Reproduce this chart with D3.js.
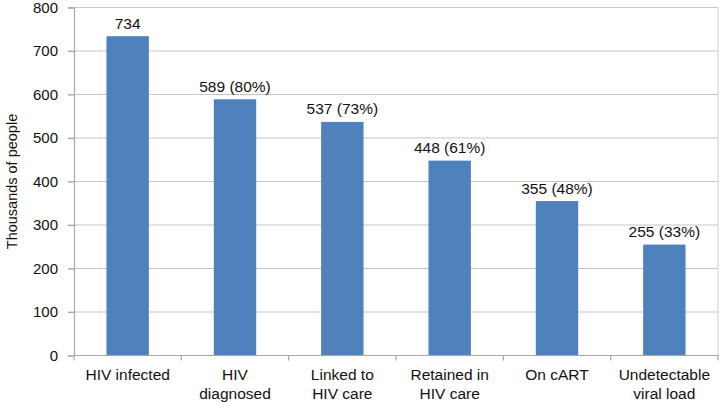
<!DOCTYPE html>
<html>
<head>
<meta charset="utf-8">
<script src="https://cdn.jsdelivr.net/npm/d3@7"></script>
<style>
  html, body { margin: 0; padding: 0; background: #fff; }
  text { font-family: "Liberation Sans", Arial, Helvetica, sans-serif; fill: #111; }
</style>
</head>
<body>
<svg id="chart" width="724" height="402"></svg>
<script>
const categories = [["HIV infected"], ["HIV", "diagnosed"], ["Linked to", "HIV care"], ["Retained in", "HIV care"], ["On cART"], ["Undetectable", "viral load"]];
const values = [734, 589, 537, 448, 355, 255];
const valueLabels = ["734", "589 (80%)", "537 (73%)", "448 (61%)", "355 (48%)", "255 (33%)"];
const yTicks = [0, 100, 200, 300, 400, 500, 600, 700, 800];
const yTitle = "Thousands of people";

(function () {
const svg = d3.select("#chart");
const mLeft = 74, mRight = 718, mTop = 7.5, mBottom = 355.5;

const x = d3.scaleBand().domain(d3.range(values.length)).range([mLeft, mRight]).paddingInner(0).paddingOuter(0);
const y = d3.scaleLinear().domain([0, 800]).range([mBottom, mTop]);

// gridlines
svg.append("g").selectAll("line").data(yTicks.filter(d => d > 0)).join("line")
  .attr("x1", mLeft - 6).attr("x2", mRight)
  .attr("y1", d => y(d)).attr("y2", d => y(d))
  .attr("stroke", "#c6c6c6").attr("stroke-width", 1.2);

// right border
svg.append("line").attr("x1", mRight).attr("x2", mRight).attr("y1", mTop).attr("y2", mBottom)
  .attr("stroke", "#d6d6d6").attr("stroke-width", 1.2);

// y axis
const yAxis = svg.append("g").attr("transform", `translate(${mLeft},0)`)
  .call(d3.axisLeft(y).tickValues(yTicks).tickSize(6).tickPadding(10));
yAxis.select(".domain").attr("stroke", "#a8a8a8").attr("stroke-width", 1.2);
yAxis.selectAll(".tick line").attr("stroke", "#a8a8a8").attr("stroke-width", 1.2);
yAxis.selectAll(".tick text").style("font-size", "15px").style("font-family", "Liberation Sans, Arial, sans-serif").attr("fill", "#111");

// bars
const bw = x.bandwidth() * 0.395;
svg.append("g").selectAll("rect").data(values).join("rect")
  .attr("x", (d, i) => x(i) + x.bandwidth() / 2 - bw / 2)
  .attr("width", bw)
  .attr("y", d => y(d))
  .attr("height", d => y(0) - y(d))
  .attr("fill", "#4f81bd");

// x axis
const xAxis = svg.append("g").attr("transform", `translate(0,${mBottom})`);
xAxis.append("line").attr("x1", mLeft).attr("x2", mRight).attr("y1", 0).attr("y2", 0)
  .attr("stroke", "#a8a8a8").attr("stroke-width", 1.2);
const edges = d3.range(values.length + 1).map(i => i < values.length ? x(i) : mRight);
xAxis.selectAll("line.tk").data(edges).join("line").attr("class", "tk")
  .attr("x1", d => d).attr("x2", d => d).attr("y1", 0).attr("y2", 5)
  .attr("stroke", "#a8a8a8").attr("stroke-width", 1.2);

// category labels
const cat = svg.append("g").selectAll("text").data(categories).join("text")
  .attr("x", (d, i) => x(i) + x.bandwidth() / 2)
  .attr("y", 380)
  .attr("text-anchor", "middle")
  .style("font-size", "15.5px");
cat.selectAll("tspan").data(d => d).join("tspan")
  .attr("x", function() { return d3.select(this.parentNode).attr("x"); })
  .attr("dy", (d, i) => i === 0 ? 0 : 19)
  .text(d => d);

// value labels
svg.append("g").selectAll("text").data(values).join("text")
  .attr("x", (d, i) => x(i) + x.bandwidth() / 2)
  .attr("y", d => y(d) - 7.5)
  .attr("text-anchor", "middle")
  .style("font-size", "15.5px")
  .text((d, i) => valueLabels[i]);

// y title
svg.append("text")
  .attr("transform", `translate(17,${(mTop + mBottom) / 2}) rotate(-90)`)
  .attr("text-anchor", "middle")
  .style("font-size", "14.5px")
  .text(yTitle);
})();
</script>
</body>
</html>
